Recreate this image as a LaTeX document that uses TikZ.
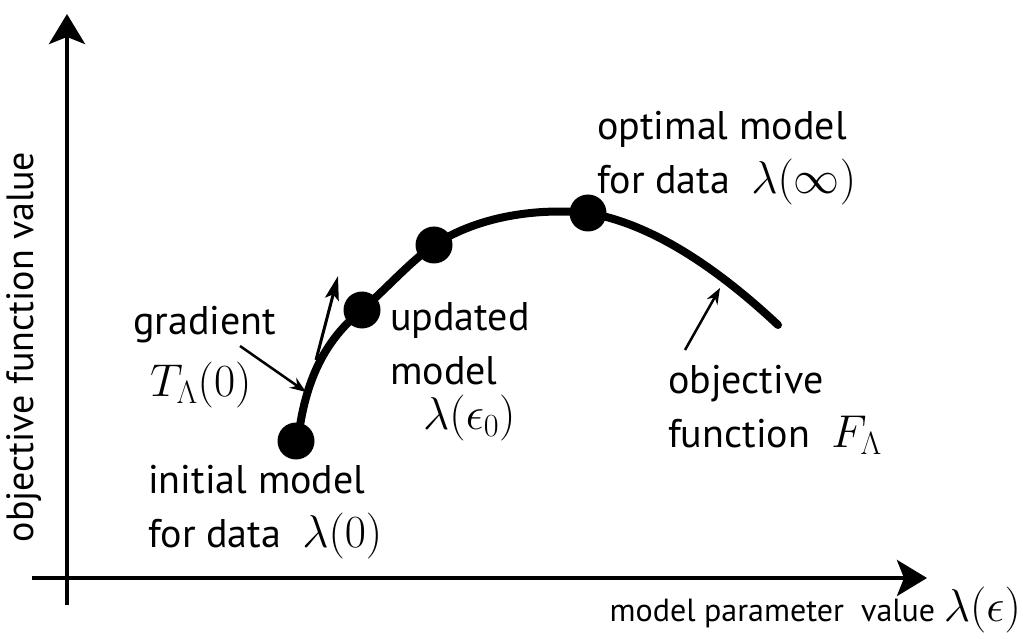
\documentclass[tikz,border=0pt]{standalone}
\usepackage{fix-cm}
\usepackage{fontspec}
\setmainfont{PT Sans}
\usetikzlibrary{arrows.meta}
\newcommand{\mth}[1]{{\fontsize{46}{50}\selectfont$#1$}}
\begin{document}
\begin{tikzpicture}[x=1pt,y=-1pt,
  lbl/.style={font=\fontsize{40}{54}\selectfont, align=left, inner sep=0pt},
  axis/.style={line width=4pt},
  dot/.style={circle, fill=black, minimum size=37pt, inner sep=0pt},
  pointer/.style={line width=2.5pt, -{Stealth[length=16pt,width=12pt]}}]
\useasboundingbox (0,0) rectangle (1023,639);
% axes
\coordinate (ystart) at (67,605);
\coordinate (yend) at (67,14);
\coordinate (xstart) at (32,578);
\coordinate (xend) at (927,578);
\draw[axis,-{Stealth[length=30pt,width=36pt,inset=7pt]}] (ystart) -- (yend);
\draw[axis,-{Stealth[length=30pt,width=36pt,inset=7pt]}] (xstart) -- (xend);
% curve
\draw[line width=8pt, line cap=round] (298,440) .. controls (305,380) and (325,340) .. (362,310)
  .. controls (390,285) and (410,262) .. (434,245)
  .. controls (480,215) and (540,208) .. (588,213)
  .. controls (660,225) and (730,280) .. (778,325);
% gradient arrow
\coordinate (gstart) at (316,360);
\coordinate (gend) at (338,276);
\draw[line width=3pt, -{Stealth[length=24pt,width=14pt,inset=5pt]}] (gstart) -- (gend);
% dots
\node[dot] (d0) at (296,441) {};
\node[dot] (d1) at (362,310) {};
\node[dot] (d2) at (434,245) {};
\node[dot] (d3) at (588,213) {};
% labels
\node[lbl, anchor=west] (opt) at (597,158) {optimal model\\for data \ \mth{\lambda(\infty)}};
\node[lbl, anchor=west] (grad) at (133,325) {gradient};
\node[lbl, anchor=west] (tl) at (150,385) {\mth{T_\Lambda(0)}};
\node[lbl, anchor=west] (upd) at (390,344) {updated\\model};
\node[lbl, anchor=west] (le0) at (423,418) {\mth{\lambda(\epsilon_0)}};
\node[lbl, anchor=west] (obj) at (668,410) {objective\\function \ \mth{F_\Lambda}};
\node[lbl, anchor=west] (init) at (148,512) {initial model\\for data \ \mth{\lambda(0)}};
\node[inner sep=0pt, anchor=east, font=\fontsize{32}{40}\selectfont] (xl) at (1021,610) {model parameter \ value \mth{\lambda(\epsilon)}};
\node[inner sep=0pt, rotate=90, font=\fontsize{38}{40}\selectfont] (yl) at (24,347) {objective function value};
% pointers
\coordinate (gs) at (240,346);
\coordinate (gp) at (306,392);
\coordinate (os) at (685,350);
\coordinate (op) at (720,288);
\draw[pointer] (gs) -- (gp);
\draw[pointer] (os) -- (op);
\end{tikzpicture}
\end{document}
